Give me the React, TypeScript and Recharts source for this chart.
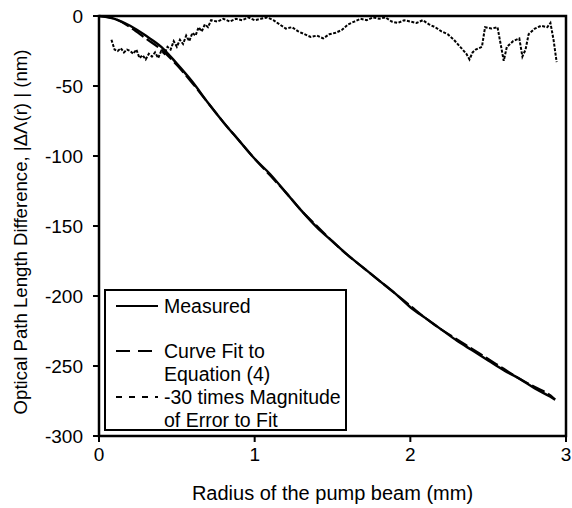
import { LineChart, Line, XAxis, YAxis, ReferenceArea } from 'recharts';

const radius = [0, 0.1, 0.2, 0.3, 0.4, 0.5, 0.6, 0.7, 0.8, 0.9, 1.0, 1.1, 1.2, 1.3, 1.4, 1.5, 1.6, 1.7, 1.8, 1.9, 2.0, 2.1, 2.2, 2.3, 2.4, 2.5, 2.6, 2.7, 2.8, 2.9, 2.93];
const measured = [0, -2, -7, -14, -22, -34, -47, -62, -76, -89, -102, -113, -126, -139, -151, -161, -171, -180, -189, -198, -208, -216, -224, -232, -239, -246, -253, -259, -266, -272, -274];
const curveFit = [0, -2, -8, -16, -24, -35, -48, -62, -76, -89, -102, -114, -126, -139, -150, -161, -171, -180, -189, -198, -207, -216, -224, -231, -238, -245, -252, -259, -265, -271, -274];

const errRadius = [0.08, 0.1, 0.12, 0.14, 0.16, 0.18, 0.2, 0.22, 0.24, 0.26, 0.28, 0.3, 0.32, 0.34, 0.36, 0.38, 0.4, 0.42, 0.44, 0.46, 0.48, 0.5, 0.52, 0.54, 0.56, 0.58, 0.6, 0.62, 0.64, 0.66, 0.68, 0.7, 0.72, 0.76, 0.8, 0.84, 0.88, 0.92, 0.96, 1.0, 1.04, 1.08, 1.12, 1.16, 1.2, 1.24, 1.28, 1.32, 1.36, 1.4, 1.44, 1.48, 1.52, 1.56, 1.6, 1.64, 1.68, 1.72, 1.76, 1.8, 1.84, 1.88, 1.92, 1.96, 2.0, 2.04, 2.08, 2.12, 2.16, 2.2, 2.24, 2.28, 2.32, 2.36, 2.38, 2.4, 2.42, 2.46, 2.48, 2.52, 2.56, 2.58, 2.6, 2.62, 2.66, 2.7, 2.72, 2.74, 2.76, 2.8, 2.84, 2.88, 2.9, 2.92, 2.94];
const errorX30 = [-17, -24, -25, -23, -26, -24, -25, -27, -24, -30, -28, -31, -27, -29, -26, -30, -25, -27, -22, -24, -18, -22, -17, -20, -14, -18, -12, -14, -8, -11, -6, -8, -3, -4, -2, -4, -2, -3, -1, -3, -2, -1, -3, -6, -9, -8, -11, -13, -15, -14, -16, -13, -12, -10, -6, -4, -2, -3, -1, -2, -1, -4, -5, -3, -4, -5, -3, -6, -8, -11, -13, -17, -22, -27, -31, -26, -24, -22, -8, -9, -8, -20, -32, -22, -18, -16, -29, -24, -13, -9, -7, -8, -5, -17, -33];

const xTicks = [0, 1, 2, 3];
const yTicks = [0, -50, -100, -150, -200, -250, -300];

const curveRows = radius.map((x, i) => ({ x, measured: measured[i], fit: curveFit[i] }));
const errorRows = errRadius.map((x, i) => ({ x, err: errorX30[i] }));

const font = '"Liberation Sans", Arial, sans-serif';
const tickStyle = { fontSize: 19, fill: '#000', fontFamily: font };

function YLabel() {
  return (
    <text x={22} y={232} transform="rotate(-90 22 232)" textAnchor="middle" dominantBaseline="middle" style={{ ...tickStyle, fontSize: 18.6 }}>
      Optical Path Length Difference, |ΔΛ(r) | (nm)
    </text>
  );
}

function LegendBox() {
  const row = { display: 'flex', alignItems: 'flex-start' } as const;
  const sample = (dash: string) => (
    <svg width={46} height={20} style={{ flex: 'none', marginRight: 4 }}>
      <line x1={2} y1={11} x2={44} y2={11} stroke="#000" strokeWidth={2} strokeDasharray={dash} />
    </svg>
  );
  return (
    <div
      style={{
        position: 'absolute',
        left: 104,
        top: 289,
        width: 243,
        height: 142,
        border: '2px solid #000',
        background: '#fff',
        fontFamily: font,
        fontSize: 19.5,
        lineHeight: '23px',
        padding: '4px 0 0 8px',
        boxSizing: 'border-box',
        whiteSpace: 'nowrap',
      }}
    >
      <div style={row}>{sample('')}<span>Measured</span></div>
      <div style={{ ...row, marginTop: 22 }}>{sample('14 8')}<span>Curve Fit to<br />Equation (4)</span></div>
      <div style={row}>{sample('6 7')}<span>-30 times Magnitude<br />of Error to Fit</span></div>
    </div>
  );
}

export default function App() {
  return (
    <div style={{ position: 'absolute', left: 0, top: 0, width: 572, height: 508, background: '#fff' }}>
      <LineChart width={572} height={508} margin={{ top: 16, right: 6, left: 0, bottom: 0 }}>
        <XAxis
          dataKey="x"
          type="number"
          domain={[0, 3]}
          ticks={xTicks}
          allowDuplicatedCategory={false}
          height={72}
          tickSize={6}
          tickMargin={6}
          tick={tickStyle}
          stroke="#000"
          strokeWidth={2}
          label={{ value: 'Radius of the pump beam (mm)', position: 'insideBottom', offset: 8, style: { ...tickStyle, fontSize: 20 } }}
        />
        <YAxis
          type="number"
          domain={[-300, 0]}
          ticks={yTicks}
          width={99}
          tickSize={6}
          tickMargin={10}
          tick={tickStyle}
          stroke="#000"
          strokeWidth={2}
          label={{ content: () => <YLabel /> }}
        />
        <ReferenceArea x1={0} x2={3} y1={-300} y2={0} fill="none" stroke="#000" strokeWidth={2.5} ifOverflow="visible" />
        <Line data={curveRows} dataKey="measured" type="monotone" stroke="#000" strokeWidth={2.4} dot={false} isAnimationActive={false} />
        <Line data={curveRows} dataKey="fit" type="monotone" stroke="#000" strokeWidth={2.2} strokeDasharray="14 4" dot={false} isAnimationActive={false} />
        <Line data={errorRows} dataKey="err" type="linear" stroke="#000" strokeWidth={2} strokeDasharray="3 1.5" dot={false} isAnimationActive={false} />
      </LineChart>
      <LegendBox />
    </div>
  );
}
